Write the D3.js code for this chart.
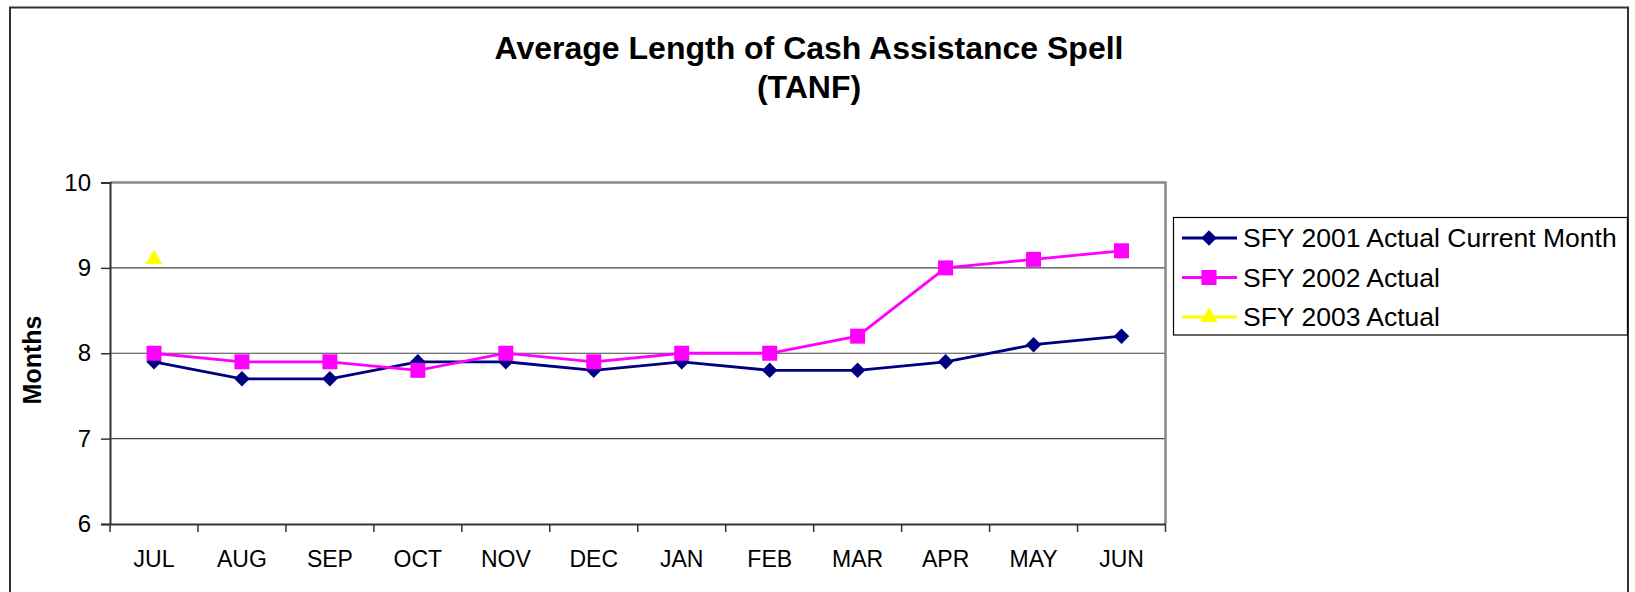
<!DOCTYPE html>
<html>
<head>
<meta charset="utf-8">
<script src="https://cdn.jsdelivr.net/npm/d3@7"></script>
<style>
body { margin:0; background:#fff; }
svg text { font-family: "Liberation Sans", Arial, sans-serif; fill:#000; }
</style>
</head>
<body>
<svg id="chart" width="1635" height="592"></svg>
<script>
var months = ["JUL","AUG","SEP","OCT","NOV","DEC","JAN","FEB","MAR","APR","MAY","JUN"];
var sfy2001 = [7.9, 7.7, 7.7, 7.9, 7.9, 7.8, 7.9, 7.8, 7.8, 7.9, 8.1, 8.2];
var sfy2002 = [8.0, 7.9, 7.9, 7.8, 8.0, 7.9, 8.0, 8.0, 8.2, 9.0, 9.1, 9.2];
var sfy2003 = [9.1, null, null, null, null, null, null, null, null, null, null, null];
var yTicks = [6, 7, 8, 9, 10];
var seriesNames = ["SFY 2001 Actual Current Month", "SFY 2002 Actual", "SFY 2003 Actual"];

var drawChart = function(){
  var svg = d3.select("#chart");
  var pLeft = 110, pRight = 1165.5, pTop = 182.5, pBottom = 524;

  // outer frame
  svg.append("path")
    .attr("d", "M10,600 L10,7.5 L1628,7.5 L1628,600")
    .attr("fill", "none").attr("stroke", "#333").attr("stroke-width", 2);

  svg.append("text").attr("x", 809).attr("y", 59).attr("text-anchor", "middle")
    .style("font-size", "32px").style("font-weight", "bold")
    .text("Average Length of Cash Assistance Spell");
  svg.append("text").attr("x", 809).attr("y", 98).attr("text-anchor", "middle")
    .style("font-size", "32px").style("font-weight", "bold")
    .text("(TANF)");

  var x = d3.scaleBand().domain(months).range([pLeft, pRight]);
  var y = d3.scaleLinear().domain([6, 10]).range([pBottom, pTop]);

  // gridlines
  svg.append("g").selectAll("line").data(yTicks.filter(function(d){ return d > 6 && d < 10; }))
    .enter().append("line")
    .attr("x1", pLeft).attr("x2", pRight)
    .attr("y1", function(d){ return y(d); }).attr("y2", function(d){ return y(d); })
    .attr("stroke", "#444").attr("stroke-width", 1.2);

  // plot border top / right (gray)
  svg.append("path")
    .attr("d", "M" + pLeft + "," + pTop + " L" + pRight + "," + pTop + " L" + pRight + "," + pBottom)
    .attr("fill", "none").attr("stroke", "#888").attr("stroke-width", 2.5);

  // y axis
  var yAxis = svg.append("g").attr("transform", "translate(" + pLeft + ",0)")
    .call(d3.axisLeft(y).tickValues(yTicks).tickSize(9).tickPadding(10).tickFormat(d3.format("d")));
  yAxis.selectAll("text").style("font-size", "24px");
  yAxis.select(".domain").attr("stroke", "#333").attr("stroke-width", 2);
  yAxis.selectAll(".tick line").attr("stroke", "#333").attr("stroke-width", 1.5);

  // x axis, ticks on the category boundaries
  var xAxis = svg.append("g").attr("transform", "translate(0," + pBottom + ")")
    .call(d3.axisBottom(x).tickSize(0).tickPadding(27));
  xAxis.selectAll("text").style("font-size", "23px");
  xAxis.select(".domain").attr("stroke", "#333").attr("stroke-width", 2);
  var bounds = months.map(function(m){ return x(m); }).concat([pRight]);
  xAxis.selectAll(".bound").data(bounds).enter().append("line")
    .attr("x1", function(d){ return d; }).attr("x2", function(d){ return d; })
    .attr("y1", 0).attr("y2", 8).attr("stroke", "#333").attr("stroke-width", 1.5);

  svg.append("text")
    .attr("transform", "translate(41,360) rotate(-90)")
    .attr("text-anchor", "middle")
    .style("font-size", "25px").style("font-weight", "bold")
    .text("Months");

  var cx = function(i){ return x(months[i]) + x.bandwidth() / 2; };
  var line = d3.line()
    .defined(function(d){ return d != null; })
    .x(function(d, i){ return cx(i); })
    .y(function(d){ return y(d); });

  // diamond = square turned 45 degrees, like the spreadsheet marker
  var series = [
    { values: sfy2001, color: "#000080", symbol: d3.symbolSquare, size: 120, rot: 45 },
    { values: sfy2002, color: "#FF00FF", symbol: d3.symbolSquare, size: 225, rot: 0 },
    { values: sfy2003, color: "#FFFF00", symbol: d3.symbolTriangle, size: 125, rot: 0 }
  ];

  series.forEach(function(s){
    svg.append("path").datum(s.values)
      .attr("d", line).attr("fill", "none")
      .attr("stroke", s.color).attr("stroke-width", 2.8);
    svg.append("g").selectAll("path")
      .data(s.values.map(function(v, i){ return { v: v, i: i }; }).filter(function(d){ return d.v != null; }))
      .enter().append("path")
      .attr("d", d3.symbol().type(s.symbol).size(s.size))
      .attr("transform", function(d){ return "translate(" + cx(d.i) + "," + y(d.v) + ") rotate(" + s.rot + ")"; })
      .attr("fill", s.color);
  });

  // legend
  var lg = svg.append("g");
  lg.append("rect").attr("x", 1173.5).attr("y", 217.5).attr("width", 454).attr("height", 117.5)
    .attr("fill", "#fff").attr("stroke", "#000").attr("stroke-width", 1.2);
  series.forEach(function(s, k){
    var yy = 238 + k * 39.5;
    lg.append("line").attr("x1", 1182).attr("x2", 1237).attr("y1", yy).attr("y2", yy)
      .attr("stroke", s.color).attr("stroke-width", 2.8);
    lg.append("path").attr("d", d3.symbol().type(s.symbol).size(s.size))
      .attr("transform", "translate(1209," + yy + ") rotate(" + s.rot + ")").attr("fill", s.color);
    lg.append("text").attr("x", 1243).attr("y", yy).attr("dy", "0.35em")
      .style("font-size", "26.5px").text(seriesNames[k]);
  });
};

drawChart();
</script>
</body>
</html>
